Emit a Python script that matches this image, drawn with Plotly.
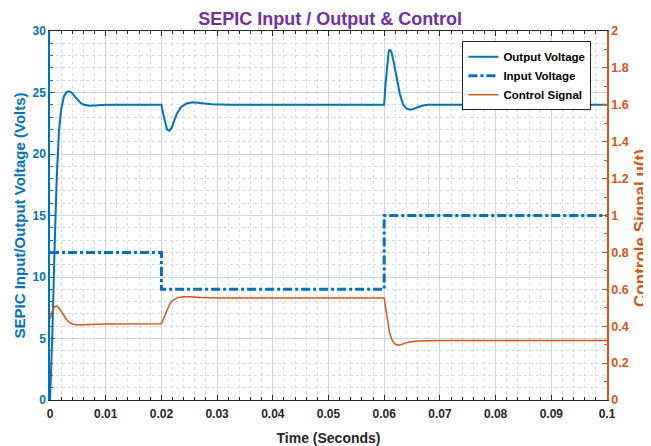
import plotly.graph_objects as go

# ---- data ----
t_out = [0, 0.0004, 0.0008, 0.0012, 0.0016, 0.002, 0.0025, 0.003, 0.0035, 0.004, 0.0045,
         0.005, 0.0055, 0.006, 0.007, 0.008, 0.009, 0.01, 0.015, 0.02, 0.0203, 0.0207,
         0.021, 0.0214, 0.0218, 0.0222, 0.0228, 0.0235, 0.0245, 0.0257, 0.027, 0.029,
         0.032, 0.04, 0.05, 0.06, 0.0602, 0.0605, 0.0608, 0.061, 0.0613, 0.0617, 0.0622,
         0.0628, 0.0634, 0.064, 0.0646, 0.0652, 0.066, 0.067, 0.068, 0.07, 0.08, 0.09, 0.1]
v_out = [0, 5, 12, 18, 21.8, 23.6, 24.7, 25.05, 25.1, 24.95, 24.65,
         24.35, 24.15, 24.02, 23.93, 23.95, 24.0, 24, 24, 24, 23.3, 22.4,
         22.0, 21.9, 22.1, 22.6, 23.3, 23.8, 24.1, 24.2, 24.15, 24.05,
         24.0, 24, 24, 24, 25.5, 27.3, 28.3, 28.5, 28.3, 27.5, 26.2,
         24.9, 24.0, 23.7, 23.6, 23.65, 23.8, 23.95, 24.0, 24.0, 24, 24, 24]

t_in = [0, 0.02, 0.02, 0.06, 0.06, 0.1]
v_in = [12, 12, 9, 9, 15, 15]

t_ctrl = [0, 0.0004, 0.0008, 0.0012, 0.0016, 0.002, 0.0025, 0.003, 0.0035, 0.004, 0.005,
          0.006, 0.008, 0.01, 0.02, 0.0205, 0.021, 0.0215, 0.022, 0.023, 0.024, 0.025,
          0.027, 0.03, 0.04, 0.06, 0.0603, 0.0607, 0.061, 0.0615, 0.062, 0.0627, 0.0635,
          0.0645, 0.066, 0.07, 0.1]
u_ctrl = [0.44, 0.48, 0.505, 0.51, 0.5, 0.48, 0.455, 0.435, 0.42, 0.412, 0.406,
          0.406, 0.41, 0.412, 0.413, 0.45, 0.49, 0.52, 0.54, 0.555, 0.56, 0.56,
          0.555, 0.553, 0.553, 0.553, 0.49, 0.41, 0.36, 0.32, 0.302, 0.297, 0.305,
          0.315, 0.32, 0.322, 0.322]

BLUE = "#0072BD"
ORANGE = "#D95319"
DARK = "#262626"
FONT = "Liberation Sans, Arial, sans-serif"
GRID_MAJ = "#c9d6e3"
GRID_MIN = "#d3dde7"

fig = go.Figure()
fig.add_trace(go.Scatter(x=t_out, y=v_out, mode="lines", name="<b>Output Voltage</b>",
                         line=dict(color=BLUE, width=2)))
fig.add_trace(go.Scatter(x=t_in, y=v_in, mode="lines", name="<b>Input Voltage</b>",
                         line=dict(color=BLUE, width=3, dash="dashdot")))
fig.add_trace(go.Scatter(x=t_ctrl, y=u_ctrl, mode="lines", name="<b>Control Signal</b>", yaxis="y2",
                         line=dict(color=ORANGE, width=1.5)))

fig.update_layout(
    width=643, height=438,
    margin=dict(l=42, r=44, t=23, b=46, autoexpand=False),
    paper_bgcolor="white", plot_bgcolor="white",
    font=dict(family=FONT, size=12, color=DARK),
    title=dict(text="<b>SEPIC Input / Output & Control</b>", x=0.501, xanchor="center",
               y=0.975, yanchor="middle", font=dict(size=18, color="#7030A0", family=FONT)),
    showlegend=True,
    legend=dict(x=0.972, xanchor="right", y=0.972, yanchor="top",
                bgcolor="white", bordercolor="#262626", borderwidth=1,
                font=dict(size=11.5, color="#000000", family=FONT),
                tracegroupgap=0, itemwidth=30),
    xaxis=dict(
        range=[0, 0.1], dtick=0.01, tick0=0, automargin=False,
        title=dict(text="<b>Time (Seconds)</b>", font=dict(size=14, color=DARK), standoff=12),
        tickfont=dict(size=12, color=DARK), tickprefix="<b>", ticksuffix="</b>",
        ticklabelstandoff=3,
        showline=True, linecolor=DARK, linewidth=1, mirror="ticks",
        ticks="inside", ticklen=5, tickcolor=DARK,
        showgrid=True, gridcolor=GRID_MAJ, gridwidth=1, zeroline=False,
        minor=dict(dtick=0.002, ticks="inside", ticklen=3, tickcolor=DARK,
                   showgrid=True, gridcolor=GRID_MIN, griddash="dot", gridwidth=1),
    ),
    yaxis=dict(
        range=[0, 30], dtick=5, tick0=0, automargin=False,
        title=dict(text="<b>SEPIC Input/Output Voltage (Volts)</b>", font=dict(size=15, color=BLUE), standoff=3),
        tickfont=dict(size=12, color=BLUE), tickprefix="<b>", ticksuffix="</b>",
        showline=True, linecolor=BLUE, linewidth=1.5, mirror=False,
        ticks="inside", ticklen=5, tickcolor=BLUE,
        showgrid=True, gridcolor=GRID_MAJ, gridwidth=1, zeroline=False,
        minor=dict(dtick=1, ticks="inside", ticklen=3, tickcolor=BLUE,
                   showgrid=True, gridcolor=GRID_MIN, griddash="dot", gridwidth=1),
    ),
    yaxis2=dict(
        range=[0, 2], dtick=0.2, tick0=0, overlaying="y", side="right", automargin=False,
        tickfont=dict(size=12.5, color=ORANGE), tickprefix="<b>", ticksuffix="</b>",
        showline=True, linecolor=ORANGE, linewidth=1.5,
        ticks="inside", ticklen=5, tickcolor=ORANGE,
        showgrid=False, zeroline=False,
        minor=dict(dtick=0.1, ticks="inside", ticklen=3, tickcolor=ORANGE, showgrid=False),
    ),
    annotations=[dict(text="<b>Controle Signal u(t)</b>", xref="paper", yref="paper",
                      x=1.059, y=0.466, xanchor="center", yanchor="middle", textangle=-90,
                      showarrow=False, font=dict(size=17, color=ORANGE, family=FONT))],
)

fig.write_html("out.html")
